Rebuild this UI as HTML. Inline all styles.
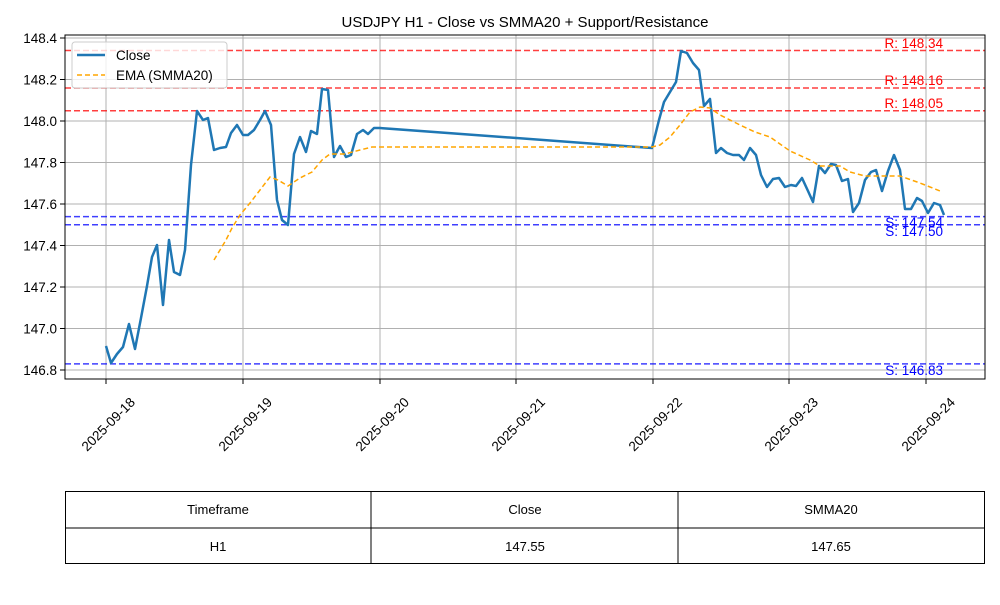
<!DOCTYPE html>
<html><head><meta charset="utf-8"><style>body{margin:0;background:#fff}svg{font-family:"Liberation Sans","DejaVu Sans",sans-serif}</style></head><body>
<svg width="1000" height="600" xmlns="http://www.w3.org/2000/svg">
<rect width="1000" height="600" fill="#fff"/>
<text x="525" y="27" font-size="15" text-anchor="middle">USDJPY H1 - Close vs SMMA20 + Support/Resistance</text>
<g stroke="#b0b0b0" stroke-width="1">
<line x1="106" y1="35" x2="106" y2="379"/><line x1="243" y1="35" x2="243" y2="379"/><line x1="380" y1="35" x2="380" y2="379"/><line x1="516" y1="35" x2="516" y2="379"/><line x1="653" y1="35" x2="653" y2="379"/><line x1="789" y1="35" x2="789" y2="379"/><line x1="926" y1="35" x2="926" y2="379"/>
<line x1="65" y1="38" x2="985" y2="38"/><line x1="65" y1="79.5" x2="985" y2="79.5"/><line x1="65" y1="121" x2="985" y2="121"/><line x1="65" y1="162.5" x2="985" y2="162.5"/><line x1="65" y1="204" x2="985" y2="204"/><line x1="65" y1="245.5" x2="985" y2="245.5"/><line x1="65" y1="287" x2="985" y2="287"/><line x1="65" y1="328.5" x2="985" y2="328.5"/><line x1="65" y1="370" x2="985" y2="370"/>
</g>
<g stroke-width="1.5" stroke-dasharray="6,3" opacity="0.75">
<line x1="65" y1="50.5" x2="985" y2="50.5" stroke="red"/><line x1="65" y1="88" x2="985" y2="88" stroke="red"/><line x1="65" y1="110.8" x2="985" y2="110.8" stroke="red"/>
<line x1="65" y1="216.6" x2="985" y2="216.6" stroke="blue"/><line x1="65" y1="224.8" x2="985" y2="224.8" stroke="blue"/><line x1="65" y1="363.9" x2="985" y2="363.9" stroke="blue"/>
</g>
<polyline fill="none" stroke="#1f77b4" stroke-width="2.5" stroke-linejoin="round" points="106,346 111,363 117,354 123,347 129,324 135,349 141,318 147,286 152,257 157,245 163,305 169,240 174,272 180,275 185,250 191,165 197,111 203,120 208,118 214,150 220,148 226,147 231,133 237,125 243,135 248,135 254,130 260,120 265,111 271,125 277,200 282,220 288,225 294,154 300,137 306,152 311,131 317,134 322,89 328,90 334,157 340,146 346,157 351,155 357,134 363,130 368,134 374,128 380,128 652,148 659,120 664,102 670,92 676,82 681,51 687,53 693,63 699,70 704,106 710,99 716,153 721,148 727,153 733,155 739,155 744,160 750,148 756,155 761,175 767,187 773,179 779,178 785,187 791,185 796,186 802,178 808,191 813,202 819,166 825,173 831,164 836,165 842,181 848,179 853,212 859,203 865,180 871,172 876,170 882,191 888,171 894,155 900,170 905,209 911,209 917,198 922,201 928,213 934,203 940,205 944,215"/>
<polyline fill="none" stroke="orange" stroke-width="1.5" stroke-dasharray="5,3" points="214,260 220,250 226,240 232,228 240,215 250,203 260,190 270,177 278,180 288,186 300,178 312,172 322,160 330,154 345,154 360,150 372,147 380,147 652,147 660,145 670,137 680,125 690,112 700,107 710,108 720,115 740,125 755,132 770,137 790,151 810,160 820,166 840,166 850,172 865,176 880,176 900,176 920,183 940,191"/>
<g font-size="13.5" text-anchor="end">
<text x="943" y="48" fill="red">R: 148.34</text><text x="943" y="85" fill="red">R: 148.16</text><text x="943" y="108" fill="red">R: 148.05</text>
<text x="943" y="227" fill="blue">S: 147.54</text><text x="943" y="236" fill="blue">S: 147.50</text><text x="943" y="375" fill="blue">S: 146.83</text>
</g>
<rect x="65" y="35" width="920" height="344" fill="none" stroke="#000" stroke-width="1"/>
<g font-size="13.5" text-anchor="end">
<text x="57" y="43">148.4</text><text x="57" y="84.5">148.2</text><text x="57" y="126">148.0</text><text x="57" y="167.5">147.8</text><text x="57" y="209">147.6</text><text x="57" y="250.5">147.4</text><text x="57" y="292">147.2</text><text x="57" y="333.5">147.0</text><text x="57" y="375">146.8</text>
</g>
<g stroke="#000"><line x1="60" y1="38" x2="65" y2="38"/><line x1="60" y1="79.5" x2="65" y2="79.5"/><line x1="60" y1="121" x2="65" y2="121"/><line x1="60" y1="162.5" x2="65" y2="162.5"/><line x1="60" y1="204" x2="65" y2="204"/><line x1="60" y1="245.5" x2="65" y2="245.5"/><line x1="60" y1="287" x2="65" y2="287"/><line x1="60" y1="328.5" x2="65" y2="328.5"/><line x1="60" y1="370" x2="65" y2="370"/>
<line x1="106" y1="379" x2="106" y2="384"/><line x1="243" y1="379" x2="243" y2="384"/><line x1="380" y1="379" x2="380" y2="384"/><line x1="516" y1="379" x2="516" y2="384"/><line x1="653" y1="379" x2="653" y2="384"/><line x1="789" y1="379" x2="789" y2="384"/><line x1="926" y1="379" x2="926" y2="384"/></g>
<g font-size="13.5" text-anchor="middle">
<text transform="translate(108,424) rotate(-45)" dy="5">2025-09-18</text><text transform="translate(245,424) rotate(-45)" dy="5">2025-09-19</text><text transform="translate(382,424) rotate(-45)" dy="5">2025-09-20</text><text transform="translate(518,424) rotate(-45)" dy="5">2025-09-21</text><text transform="translate(655,424) rotate(-45)" dy="5">2025-09-22</text><text transform="translate(791,424) rotate(-45)" dy="5">2025-09-23</text><text transform="translate(928,424) rotate(-45)" dy="5">2025-09-24</text>
</g>
<rect x="72" y="42" width="155" height="46" rx="3" fill="#fff" fill-opacity="0.8" stroke="#ccc"/>
<line x1="77" y1="55" x2="105" y2="55" stroke="#1f77b4" stroke-width="2.5"/>
<line x1="77" y1="75" x2="105" y2="75" stroke="orange" stroke-width="1.5" stroke-dasharray="5,3"/>
<text x="116" y="60" font-size="13.5">Close</text><text x="116" y="80" font-size="13.5">EMA (SMMA20)</text>
<g fill="none" stroke="#000"><rect x="65.5" y="491.5" width="919" height="72"/><line x1="65" y1="528" x2="985" y2="528"/><line x1="371" y1="491" x2="371" y2="564"/><line x1="678" y1="491" x2="678" y2="564"/></g>
<g font-size="13" text-anchor="middle"><text x="218" y="514">Timeframe</text><text x="525" y="514">Close</text><text x="831" y="514">SMMA20</text><text x="218" y="551">H1</text><text x="525" y="551">147.55</text><text x="831" y="551">147.65</text></g>
</svg>
</body></html>
